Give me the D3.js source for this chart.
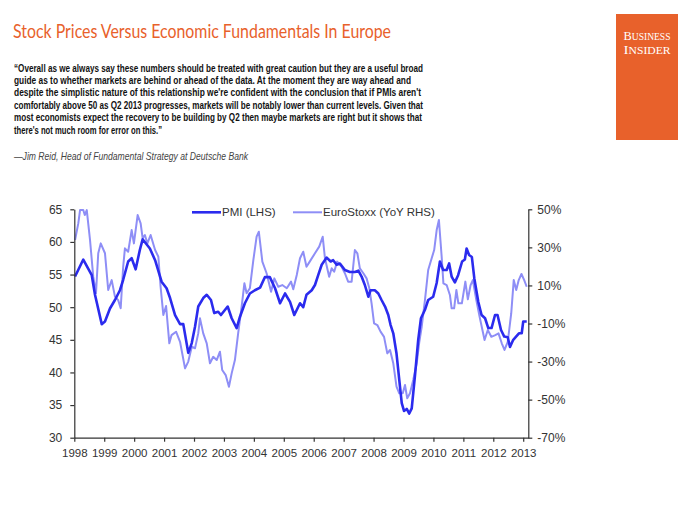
<!DOCTYPE html>
<html>
<head>
<meta charset="utf-8">
<script src="https://cdn.jsdelivr.net/npm/d3@7"></script>
<style>
  html, body { margin: 0; padding: 0; background: #fff; }
  svg { display: block; }
</style>
</head>
<body>
<div id="chart"></div>
<script>
// ---------------- DATA ----------------
const titleText = "Stock Prices Versus Economic Fundamentals In Europe";
const quoteLines = [
  "\u201cOverall as we always say these numbers should be treated with great caution but they are a useful broad",
  "guide as to whether markets are behind or ahead of the data. At the moment they are way ahead and",
  "despite the simplistic nature of this relationship we're confident with the conclusion that if PMIs aren't",
  "comfortably above 50 as Q2 2013 progresses, markets will be notably lower than current levels. Given that",
  "most economists expect the recovery to be building by Q2 then maybe markets are right but it shows that",
  "there's not much room for error on this.\u201d"
];
const attribution = "\u2014Jim Reid, Head of Fundamental Strategy at Deutsche Bank";
const seriesNames = ["PMI (LHS)", "EuroStoxx (YoY RHS)"];

const years = [1998,1999,2000,2001,2002,2003,2004,2005,2006,2007,2008,2009,2010,2011,2012,2013];
const leftTicks = [30,35,40,45,50,55,60,65];
const rightTicks = [-70,-50,-30,-10,10,30,50];

// months since Jan 1998
const pmiMonths = [0.3,3.6,7.0,8.3,11.0,12.3,14.3,16.3,18.3,19.6,21.6,23.0,24.6,26.3,27.4,30.3,32.4,35.0,37.0,38.4,40.4,42.4,43.7,45.7,47.1,48.4,49.7,51.7,53.1,54.8,56.1,57.7,58.8,61.5,63.1,65.1,66.4,68.4,70.4,72.4,74.5,76.4,78.4,80.5,82.5,84.5,86.5,88.2,90.5,91.8,93.1,95.2,96.5,97.8,99.2,101.2,102.8,103.8,105.2,106.5,108.5,110.5,112.5,113.9,115.2,116.5,117.9,118.8,120.5,121.9,123.2,124.6,125.9,126.8,127.9,129.2,130.6,131.3,132.2,133.3,134.3,135.3,136.6,137.9,139.0,140.6,141.9,143.9,145.3,146.6,147.9,149.3,150.3,151.3,152.6,153.9,155.5,156.6,157.3,158.3,159.4,160.4,162.0,163.3,164.7,166.0,167.3,168.7,169.7,171.1,172.4,173.8,174.7,176.0,177.4,178.3,179.4,180.0,181.4];
const pmiValues = [54.7,57.3,54.9,51.9,47.4,47.8,49.8,51.1,52.6,54.2,57.0,57.5,55.8,58.8,60.4,59.0,57.2,53.9,52.9,51.4,48.8,47.4,47.4,43.0,44.5,47.0,50.1,51.4,51.9,51.1,49.1,49.3,48.8,50.1,48.3,46.8,48.5,50.6,52.1,52.6,53.0,54.6,54.6,52.9,50.6,52.1,50.8,48.8,50.6,50.0,51.9,52.6,53.4,54.9,56.5,57.6,57.0,57.2,56.5,56.7,55.7,55.4,55.4,55.6,54.7,53.4,51.6,52.6,52.6,52.1,51.1,50.1,48.8,47.3,46.0,42.9,37.8,35.3,34.1,34.4,33.7,34.5,39.5,45.0,48.3,49.6,51.1,51.6,53.7,57.0,55.7,55.7,56.7,54.7,53.8,54.9,57.0,57.3,59.0,58.0,57.7,54.4,50.8,48.8,48.3,46.8,46.8,48.8,48.8,46.5,45.5,45.4,43.9,45.0,45.6,46.0,46.0,47.8,47.8];

const stoxxMonths = [0.3,1.6,2.3,3.6,4.2,5.0,6.3,7.6,8.7,9.6,10.6,12.3,13.6,15.0,16.3,17.6,18.6,19.6,20.3,21.6,23.0,23.9,25.4,26.6,27.4,28.3,29.3,30.6,32.4,33.7,34.6,35.7,36.8,38.1,39.0,40.8,42.4,44.4,45.7,47.1,48.4,49.7,50.4,51.7,53.1,54.4,55.7,57.1,58.4,59.3,60.7,62.0,63.1,64.4,65.7,67.1,68.2,69.1,70.4,71.8,73.1,74.0,75.4,77.1,78.9,80.2,81.8,83.4,85.2,86.9,87.8,89.2,90.5,91.8,93.1,94.4,96.5,98.2,99.6,100.5,102.2,103.2,104.2,105.4,107.2,108.5,109.8,111.2,112.5,113.5,114.5,115.9,117.2,118.3,119.2,120.2,121.5,122.8,124.2,125.5,126.6,127.9,129.2,130.3,131.7,132.6,133.5,134.6,135.9,137.3,138.3,139.3,140.6,141.9,143.3,144.3,145.3,146.2,147.3,148.0,149.3,150.6,151.3,152.3,153.2,154.0,155.4,156.8,157.8,158.9,159.8,161.2,162.5,163.8,164.5,165.8,167.2,168.8,170.1,171.4,172.5,173.8,175.2,176.2,177.2,178.2,179.3,180.4,181.4];
const stoxxValues = [33.9,42.6,49.6,49.6,47.0,49.6,33.9,14.6,5.9,26.9,32.1,26.9,7.6,12.8,4.1,2.3,-2.0,19.8,29.5,27.7,39.1,32.1,47.0,42.6,34.8,36.5,32.1,36.5,28.6,25.1,9.3,-5.5,-0.8,-20.4,-16.1,-14.3,-19.6,-33.6,-30.0,-22.2,-23.0,-15.2,-7.3,-15.2,-20.4,-30.9,-27.5,-29.2,-24.8,-34.4,-37.1,-43.2,-36.2,-29.2,-15.2,-1.2,11.1,5.9,8.5,23.4,35.6,38.2,22.5,16.4,6.7,13.7,9.3,10.2,8.5,12.0,8.0,15.5,24.3,27.7,19.8,22.5,26.9,30.4,35.6,24.3,14.6,19.0,17.2,22.5,19.8,16.4,12.0,12.0,28.6,26.9,19.0,16.4,13.7,8.5,0.6,-9.9,-10.8,-14.3,-17.0,-25.7,-23.9,-30.9,-43.2,-46.7,-46.7,-42.3,-49.3,-46.7,-39.7,-30.9,-20.0,-11.7,2.3,18.1,24.3,28.6,39.1,44.4,25.1,11.1,10.2,5.0,-2.0,-2.0,7.6,0.6,0.6,12.0,2.7,10.2,12.8,2.3,-6.4,-14.3,-18.7,-13.4,-17.0,-16.1,-15.2,-20.4,-23.9,-19.6,-4.6,12.8,7.6,12.8,16.0,12.8,9.3];

// ---------------- DRAW ----------------
const W = 700, H = 525;
const orange = "#e8612b";
const darkBlue = "#2b2bee";
const lightBlue = "#8e8ef6";
const axisColor = "#333";

const svg = d3.select("#chart").append("svg").attr("width", W).attr("height", H);

// Title
svg.append("text")
  .attr("x", 13).attr("y", 38)
  .attr("font-family", "Lato, 'Open Sans', 'DejaVu Sans', sans-serif")
  .attr("font-weight", 400)
  .attr("font-size", 20)
  .attr("fill", orange)
  .attr("textLength", 378).attr("lengthAdjust", "spacingAndGlyphs")
  .text(titleText);

// Logo
const logo = svg.append("g");
logo.append("rect").attr("x", 616).attr("y", 14).attr("width", 62).attr("height", 126).attr("fill", orange);
[["B", "USINESS", 39.5], ["I", "NSIDER", 53.5]].forEach(([a, b, y]) => {
  const t = logo.append("text").attr("x", 647).attr("y", y)
    .attr("text-anchor", "middle")
    .attr("font-family", "'Liberation Serif', 'DejaVu Serif', serif")
    .attr("fill", "#fff").attr("textLength", 47).attr("lengthAdjust", "spacingAndGlyphs");
  t.append("tspan").attr("font-size", 13).text(a);
  t.append("tspan").attr("font-size", 10).text(b);
});

// Quote
const quoteEnds = [423, 411, 421, 423, 422, 162];
quoteLines.forEach((line, i) => {
  svg.append("text")
    .attr("x", 14).attr("y", 71.5 + i * 12.45)
    .attr("font-family", "'Liberation Sans', Arial, sans-serif")
    .attr("font-weight", "bold")
    .attr("font-size", 11.2)
    .attr("fill", "#111")
    .attr("textLength", quoteEnds[i] - 14).attr("lengthAdjust", "spacingAndGlyphs")
    .text(line);
});

// Attribution
svg.append("text")
  .attr("x", 14).attr("y", 160)
  .attr("font-family", "'Liberation Sans', Arial, sans-serif")
  .attr("font-style", "italic")
  .attr("font-size", 11.5)
  .attr("fill", "#444")
  .attr("textLength", 234).attr("lengthAdjust", "spacingAndGlyphs")
  .text(attribution);

// Scales
const x = d3.scaleLinear().domain([1998, 2013.17]).range([74.3, 528.3]);
const yL = d3.scaleLinear().domain([30, 65]).range([437.7, 209.3]);
const yR = d3.scaleLinear().domain([-70, 50]).range([437.7, 209.3]);
const toYear = m => 1998 + m / 12;

// Lines
const stoxxData = stoxxMonths.map((m, i) => ({ t: toYear(m), v: stoxxValues[i] }));
const pmiData = pmiMonths.map((m, i) => ({ t: toYear(m), v: pmiValues[i] }));

svg.append("path").datum(stoxxData)
  .attr("fill", "none").attr("stroke", lightBlue).attr("stroke-width", 2)
  .attr("stroke-linejoin", "round")
  .attr("d", d3.line().x(d => x(d.t)).y(d => yR(d.v)));

svg.append("path").datum(pmiData)
  .attr("fill", "none").attr("stroke", darkBlue).attr("stroke-width", 2.6)
  .attr("stroke-linejoin", "round")
  .attr("d", d3.line().x(d => x(d.t)).y(d => yL(d.v)));

// Axes
function styleAxis(g) {
  g.selectAll("path.domain").attr("stroke", axisColor).attr("stroke-width", 1.2);
  g.selectAll(".tick line").attr("stroke", axisColor).attr("stroke-width", 1.2);
  g.selectAll(".tick text")
    .attr("fill", axisColor)
    .attr("font-family", "'Liberation Sans', Arial, sans-serif");
}

const gL = svg.append("g").attr("transform", "translate(74.3,0)")
  .call(d3.axisLeft(yL).tickValues(leftTicks).tickFormat(d3.format("d")).tickSize(4).tickSizeOuter(0).tickPadding(8));
styleAxis(gL);
gL.selectAll(".tick text").attr("font-size", 12);

const gR = svg.append("g").attr("transform", "translate(528.3,0)")
  .call(d3.axisRight(yR).tickValues(rightTicks).tickFormat(d => d + "%").tickSize(4).tickSizeOuter(0).tickPadding(5));
styleAxis(gR);
gR.selectAll(".tick text").attr("font-size", 12);

const gB = svg.append("g").attr("transform", "translate(0,437.7)")
  .call(d3.axisBottom(x).tickValues(years).tickFormat(d3.format("d")).tickSize(4).tickSizeOuter(0).tickPadding(7));
styleAxis(gB);
gB.selectAll(".tick text").attr("font-size", 11.5);

// Legend
const legend = svg.append("g").attr("font-family", "'Liberation Sans', Arial, sans-serif").attr("font-size", 11.5).attr("fill", axisColor);
const legItems = [
  { x1: 192, x2: 221, tx: 222, color: darkBlue, w: 2.6, name: seriesNames[0] },
  { x1: 293, x2: 322, tx: 323, color: lightBlue, w: 2, name: seriesNames[1] }
];
legItems.forEach(it => {
  legend.append("line").attr("x1", it.x1).attr("x2", it.x2).attr("y1", 212.3).attr("y2", 212.3)
    .attr("stroke", it.color).attr("stroke-width", it.w);
  legend.append("text").attr("x", it.tx).attr("y", 212.3).attr("dy", "0.35em").text(it.name);
});
</script>
</body>
</html>
